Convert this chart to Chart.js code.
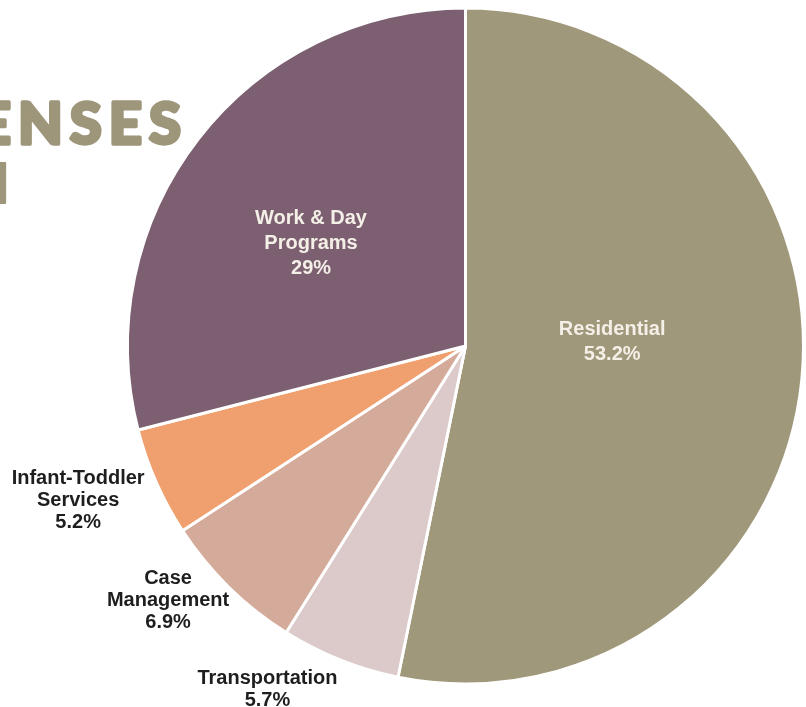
<!DOCTYPE html>
<html>
<head>
<meta charset="utf-8">
<script src="https://cdn.jsdelivr.net/npm/chart.js@4"></script>
<style>
  html, body { margin: 0; padding: 0; background: #ffffff; }
  #wrap { position: relative; width: 806px; height: 707px; overflow: hidden; }
  canvas { display: block; }
</style>
</head>
<body>
<div id="wrap"><canvas id="c" width="806" height="707"></canvas></div>
<script>
// ---- data ----
const categories = ["Residential", "Transportation", "Case Management", "Infant-Toddler Services", "Work & Day Programs"];
const labelLines = [["Residential"], ["Transportation"], ["Case", "Management"], ["Infant-Toddler", "Services"], ["Work & Day", "Programs"]];
const percentValues = [53.2, 5.7, 6.9, 5.2, 29];
const percentText = ["53.2%", "5.7%", "6.9%", "5.2%", "29%"];
const titleLine1 = "EXPENSES";
const titleLine2 = "2021";

// ---- styles ----
const sliceColors = ["#a0987b", "#dccaca", "#d4ab9a", "#f09f6e", "#7c5f70"];
const labelInside = [true, false, false, false, true];
// label block centre as fraction of the radius, relative to pie centre
const labelFx = [0.434, -0.586, -0.880, -1.146, -0.457];
const labelFy = [-0.016, 1.012, 0.751, 0.453, -0.306];

const titlePlugin = {
  id: 'titleText',
  beforeDraw(chart) {
    const ctx = chart.ctx;
    ctx.save();
    ctx.fillStyle = '#9e967a';
    ctx.strokeStyle = '#9e967a';
    ctx.lineJoin = 'round';
    ctx.textAlign = 'right';
    ctx.textBaseline = 'alphabetic';
    ctx.font = '900 58px Lato, "DejaVu Sans", sans-serif';
    ctx.letterSpacing = '7px';
    ctx.lineWidth = 3.5;
    ctx.fillText(titleLine1, 188, 144);
    ctx.strokeText(titleLine1, 188, 144);
    ctx.letterSpacing = '0px';
    ctx.font = 'bold 56px "Open Sans", sans-serif';
    ctx.lineWidth = 2;
    ctx.fillText(titleLine2, 14, 203);
    ctx.strokeText(titleLine2, 14, 203);
    ctx.restore();
  }
};

const labelPlugin = {
  id: 'sliceLabels',
  afterDatasetsDraw(chart) {
    const ctx = chart.ctx;
    const meta = chart.getDatasetMeta(0);
    ctx.save();
    ctx.textAlign = 'center';
    ctx.textBaseline = 'middle';
    ctx.font = 'bold 20px "Liberation Sans", Arial, sans-serif';
    meta.data.forEach((arc, i) => {
      const p = arc.getProps(['x', 'y', 'outerRadius'], true);
      const cx = p.x + p.outerRadius * labelFx[i];
      const cy = p.y + p.outerRadius * labelFy[i];
      const lines = labelLines[i].concat([percentText[i]]);
      const lh = labelInside[i] ? 25 : 22;
      ctx.fillStyle = labelInside[i] ? '#f4efe7' : '#1e1e1e';
      const top = cy - (lines.length - 1) * lh / 2;
      lines.forEach((t, k) => ctx.fillText(t, cx, top + k * lh + 1));
    });
    ctx.restore();
  }
};

new Chart(document.getElementById('c'), {
  type: 'pie',
  data: {
    labels: categories,
    datasets: [{
      data: percentValues,
      backgroundColor: sliceColors,
      borderColor: '#ffffff',
      borderWidth: 3
    }]
  },
  options: {
    responsive: false,
    animation: false,
    layout: { padding: { left: 126, right: 1, top: 6, bottom: 21 } },
    plugins: {
      legend: { display: false },
      tooltip: { enabled: false }
    }
  },
  plugins: [titlePlugin, labelPlugin]
});
</script>
</body>
</html>
